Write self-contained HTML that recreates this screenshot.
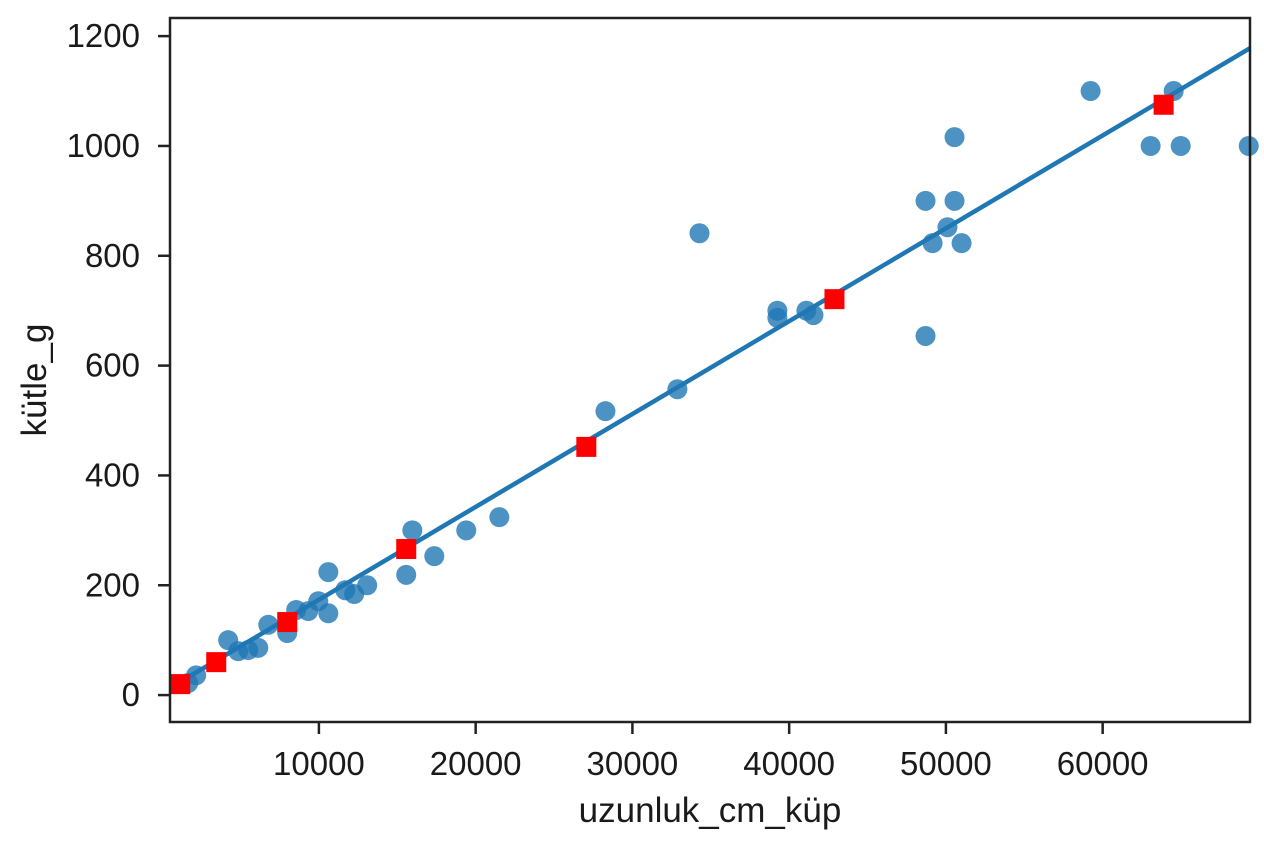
<!DOCTYPE html>
<html><head><meta charset="utf-8"><style>
body{margin:0;background:#fff;width:1264px;height:848px;overflow:hidden}
text{font-family:"Liberation Sans","DejaVu Sans",sans-serif;fill:#1a1a1a}
</style></head><body>
<svg id="chart" width="1264" height="848" xmlns="http://www.w3.org/2000/svg"></svg>
<script>
const pointsX=[59230,64530,63060,64980,69320,50550,48700,50550,50100,49150,51000,48700,34280,39250,39250,41100,41550,32870,28280,21510,19400,15960,15570,17360,13080,12250,11680,10600,10600,9960,9320,8550,7980,6770,6130,5490,4850,4210,2170,1660];
const pointsY=[1100,1100,1000,1000,1000,1016,900,900,852,823,823,654,841,700,687,700,692,557,517,324,300,300,219,253,200,184,191,224,149,171,153,155,113,128,86,82,80,100,36,22];
const predX=[1150,3450,7980,15570,27060,42890,63890];
const predY=[20,60,133,266,452,721,1075];
const lineSlope=0.01691, lineIntercept=4.5;
const xTicks=[10000,20000,30000,40000,50000,60000];
const yTicks=[0,200,400,600,800,1000,1200];
const L=170,R=1250,T=18,B=722;
const xMin=500,xMax=69400,yMin=-49,yMax=1233;
const sx=v=>L+(v-xMin)/(xMax-xMin)*(R-L);
const sy=v=>B-(v-yMin)/(yMax-yMin)*(B-T);
const svg=document.getElementById('chart');
const NS='http://www.w3.org/2000/svg';
function mk(tag,attrs,parent){const e=document.createElementNS(NS,tag);for(const k in attrs)e.setAttribute(k,attrs[k]);(parent||svg).appendChild(e);return e;}
const pts=mk('g',{});


pointsX.forEach((x,i)=>{const c=mk('circle',{cx:sx(x),cy:sy(pointsY[i]),r:10,fill:'#1f77b4','fill-opacity':0.8},pts);

});
const ln=mk('line',{x1:sx(xMin),y1:sy(lineSlope*xMin+lineIntercept),x2:sx(xMax),y2:sy(lineSlope*xMax+lineIntercept),stroke:'#1f77b4','stroke-width':4.5});


const pg=mk('g',{});


predX.forEach((x,i)=>{const r=mk('rect',{x:sx(x)-10,y:sy(predY[i])-10,width:20,height:20,fill:'#ff0000'},pg);

});
const fr=mk('rect',{x:L,y:T,width:R-L,height:B-T,fill:'none',stroke:'#222','stroke-width':2.5});


xTicks.forEach(v=>{mk('line',{x1:sx(v),x2:sx(v),y1:B,y2:B+12,stroke:'#222','stroke-width':2.5});
const t=mk('text',{x:sx(v),y:B+53,'text-anchor':'middle','font-size':33});t.textContent=v;

});
yTicks.forEach(v=>{mk('line',{x1:L-12,x2:L,y1:sy(v),y2:sy(v),stroke:'#222','stroke-width':2.5});
const t=mk('text',{x:L-30,y:sy(v)+11,'text-anchor':'end','font-size':33});t.textContent=v;

});
const xl=mk('text',{x:710,y:822,'text-anchor':'middle','font-size':35});xl.textContent='uzunluk_cm_küp';


const yl=mk('text',{x:0,y:0,'text-anchor':'middle','font-size':35,transform:'translate(46,380) rotate(-90)'});yl.textContent='kütle_g';


</script>
</body></html>
